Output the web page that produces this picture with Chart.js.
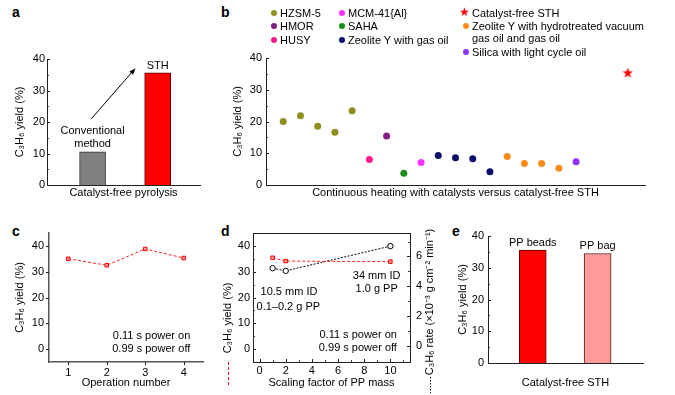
<!DOCTYPE html>
<html>
<head>
<meta charset="utf-8">
<script src="https://cdn.jsdelivr.net/npm/chart.js@4.4.0/dist/chart.umd.min.js"></script>
<style>
  body { margin: 0; background: #fff; width: 675px; height: 395px; position: relative; overflow: hidden;
         font-family: "Liberation Sans", Arial, sans-serif; color: #000; }
  .box { position: absolute; }
  .panel { position: absolute; font-weight: bold; font-size: 14px; line-height: 14px; }
  .leg { position: absolute; font-size: 11px; line-height: 12px; white-space: nowrap; }
  .dot { position: absolute; left: -9px; top: 3px; width: 6px; height: 6px; border-radius: 50%; }
  .star { position: absolute; left: -13px; top: -1px; color: #f00; font-size: 12px; }
</style>
</head>
<body>

<div class="panel" style="left:12px;top:5px">a</div>
<div class="panel" style="left:221px;top:5px">b</div>
<div class="panel" style="left:12px;top:224px">c</div>
<div class="panel" style="left:221px;top:224px">d</div>
<div class="panel" style="left:452px;top:224px">e</div>

<div class="box" style="left:0;top:0"><canvas id="chartA" width="205" height="200"></canvas></div>
<div class="box" style="left:200px;top:0"><canvas id="chartB" width="470" height="200"></canvas></div>
<div class="box" style="left:0;top:200px"><canvas id="chartC" width="215" height="195"></canvas></div>
<div class="box" style="left:220px;top:200px"><canvas id="chartD" width="235" height="195"></canvas></div>
<div class="box" style="left:450px;top:200px"><canvas id="chartE" width="225" height="195"></canvas></div>

<div id="legendB"></div>

<script>
// ---- data ----
// a: catalyst-free pyrolysis
const aMethods = ['Conventional method', 'STH'];
const aYield = [10.5, 35.6];

// b: continuous heating with catalysts vs catalyst-free STH (in plotted order)
const bHZSM5 = [20.0, 21.8, 18.5, 16.6, 23.4];
const bHUSY = [8.0];
const bHMOR = [15.4];
const bSAHA = [3.7];
const bMCM41 = [7.1];
const bZeoliteGasOil = [9.3, 8.6, 8.3, 4.2];
const bZeoliteHVGO = [9.0, 6.8, 6.8, 5.3];
const bSilicaLCO = [7.3];
const bSTH = [35.4];
const bSTHSlot = 20; // STH sits two empty slots after the last catalyst

// c: repeated operation
const cOperation = [1, 2, 3, 4];
const cYield = [35.0, 32.5, 38.8, 35.3];

// d: scale-up
const dScaling = [1, 2, 10];
const dYield = [35.4, 34.1, 33.9];
const dRate = [5.21, 5.03, 6.69];

// e: feedstock form
const eSamples = ['PP beads', 'PP bag'];
const eYield = [35.6, 34.5];

const yieldTicks = [0, 10, 20, 30, 40];
const yieldMinor = [5, 15, 25, 35];

// ---- helpers ----
const FONT = '"Liberation Sans", Arial, sans-serif';
Chart.defaults.font.family = FONT;
Chart.defaults.font.size = 11;
Chart.defaults.color = '#000';

const tickMarks = {
  id: 'tickMarks',
  afterDatasetsDraw(chart, args, opts) {
    const ctx = chart.ctx;
    ctx.save();
    ctx.strokeStyle = '#222';
    ctx.lineWidth = 1;
    ctx.beginPath();
    (opts.marks || []).forEach(m => {
      const s = chart.scales[m.axis];
      const all = m.major.map(v => [v, m.len]).concat((m.minor || []).map(v => [v, m.len * 0.6]));
      all.forEach(([v, len]) => {
        const p = Math.round(s.getPixelForValue(v)) + 0.5;
        if (s.isHorizontal()) {
          ctx.moveTo(p, s.top); ctx.lineTo(p, s.top + m.dir * len);
        } else {
          const x0 = s.position === 'left' ? s.right : s.left;
          ctx.moveTo(x0, p); ctx.lineTo(x0 + m.dir * len, p);
        }
      });
    });
    if (opts.frame) {
      const a = chart.chartArea;
      ctx.moveTo(a.left, a.top + 0.5); ctx.lineTo(a.right, a.top + 0.5);
    }
    ctx.stroke();
    ctx.restore();
  }
};

const notes = {
  id: 'notes',
  afterDatasetsDraw(chart, args, opts) {
    const ctx = chart.ctx;
    (opts.items || []).forEach(n => {
      const x = chart.scales[n.xAxis || 'x'].getPixelForValue(n.x);
      const y = chart.scales[n.yAxis || 'y'].getPixelForValue(n.y);
      ctx.save();
      ctx.font = (n.size || 11) + 'px ' + FONT;
      ctx.fillStyle = '#000';
      ctx.textAlign = n.align || 'center';
      ctx.textBaseline = 'middle';
      ctx.fillText(n.text, x, y);
      ctx.restore();
    });
  }
};

const arrow = {
  id: 'arrow',
  afterDatasetsDraw(chart, args, opts) {
    if (!opts.from) return;
    const sx = chart.scales.x, sy = chart.scales.y;
    const x1 = sx.getPixelForValue(opts.from[0]), y1 = sy.getPixelForValue(opts.from[1]);
    const x2 = sx.getPixelForValue(opts.to[0]), y2 = sy.getPixelForValue(opts.to[1]);
    const ang = Math.atan2(y2 - y1, x2 - x1);
    const ctx = chart.ctx;
    ctx.save();
    ctx.strokeStyle = '#000'; ctx.fillStyle = '#000'; ctx.lineWidth = 1;
    ctx.beginPath(); ctx.moveTo(x1, y1); ctx.lineTo(x2 - 4 * Math.cos(ang), y2 - 4 * Math.sin(ang)); ctx.stroke();
    ctx.beginPath();
    ctx.moveTo(x2, y2);
    ctx.lineTo(x2 - 7 * Math.cos(ang - 0.35), y2 - 7 * Math.sin(ang - 0.35));
    ctx.lineTo(x2 - 7 * Math.cos(ang + 0.35), y2 - 7 * Math.sin(ang + 0.35));
    ctx.closePath(); ctx.fill();
    ctx.restore();
  }
};

// rotated titles (reading bottom to top) with a small line key underneath
const sideTitles = {
  id: 'sideTitles',
  afterDraw(chart, args, opts) {
    const ctx = chart.ctx;
    (opts.items || []).forEach(t => {
      ctx.save();
      ctx.translate(t.x, t.y);
      ctx.rotate(-Math.PI / 2);
      ctx.font = '11px ' + FONT;
      ctx.fillStyle = '#000';
      ctx.textAlign = 'center';
      ctx.textBaseline = 'middle';
      ctx.fillText(t.text, 0, 0);
      ctx.restore();
      ctx.save();
      ctx.strokeStyle = t.keyColor;
      ctx.lineWidth = 1;
      ctx.setLineDash(t.keyDash);
      ctx.beginPath();
      ctx.moveTo(t.x + 0.5, t.keyFrom); ctx.lineTo(t.x + 0.5, t.keyTo);
      ctx.stroke();
      ctx.restore();
    });
  }
};

function starImage(size, color) {
  const c = document.createElement('canvas');
  c.width = c.height = size;
  const g = c.getContext('2d');
  g.fillStyle = color;
  g.beginPath();
  for (let i = 0; i < 10; i++) {
    const r = i % 2 ? size * 0.2 : size / 2;
    const a = -Math.PI / 2 + i * Math.PI / 5;
    g.lineTo(size / 2 + r * Math.cos(a), size / 2 + 0.6 + r * Math.sin(a));
  }
  g.closePath();
  g.fill();
  return c;
}

const base = { responsive: false, animation: false, devicePixelRatio: 1 };
const axisBorder = { color: '#222', width: 1 };
const noGrid = { display: false, drawTicks: false };

// ---- a ----
new Chart(document.getElementById('chartA'), {
  type: 'bar',
  data: {
    labels: aMethods,
    datasets: [{
      data: aYield.map((v, i) => ({ x: i + 1, y: v })),
      backgroundColor: ['#808080', '#ff0000'],
      borderColor: ['#333333', '#5a0000'],
      borderWidth: 1,
      borderSkipped: 'bottom',
      barThickness: 26
    }]
  },
  options: {
    ...base,
    layout: { padding: { left: 0, top: 59, right: 5, bottom: 0 } },
    plugins: {
      legend: { display: false }, tooltip: { enabled: false },
      tickMarks: { marks: [{ axis: 'y', major: yieldTicks, minor: yieldMinor, len: 3, dir: 1 }] },
      notes: { items: [
        { text: 'Conventional', x: 1, y: aYield[0] + 6.6 },
        { text: 'method', x: 1, y: aYield[0] + 2.6 },
        { text: 'STH', x: 2, y: aYield[1] + 2.2 }
      ] },
      arrow: { from: [0.98, 21], to: [1.66, 37.1] }
    },
    scales: {
      x: { type: 'linear', min: 0.3, max: 2.65, offset: false, grid: noGrid, border: axisBorder,
           ticks: { display: false },
           title: { display: true, text: 'Catalyst-free pyrolysis', padding: { top: 0, bottom: 0 } },
           afterFit(s) { s.height = 15; } },
      y: { min: 0, max: 40, grid: noGrid, border: axisBorder,
           ticks: { stepSize: 10, padding: 2 },
           title: { display: true, text: 'C₃H₆ yield (%)', padding: { top: 13, bottom: 0 } },
           afterFit(s) { s.width = 47; } }
    }
  },
  plugins: [tickMarks, notes, arrow]
});

// ---- b ----
const bGroups = [
  { name: 'HZSM-5', values: bHZSM5, color: '#8f8f1f' },
  { name: 'HUSY', values: bHUSY, color: '#ff1a8c' },
  { name: 'HMOR', values: bHMOR, color: '#7f1f7f' },
  { name: 'SAHA', values: bSAHA, color: '#1a8c1a' },
  { name: 'MCM-41{Al}', values: bMCM41, color: '#ff33ff' },
  { name: 'Zeolite Y with gas oil', values: bZeoliteGasOil, color: '#0d0d6b' },
  { name: 'Zeolite Y with hydrotreated vacuum gas oil and gas oil', values: bZeoliteHVGO, color: '#ff8c1a' },
  { name: 'Silica with light cycle oil', values: bSilicaLCO, color: '#8c33ff' }
];
let slot = 0;
const bDatasets = bGroups.map(g => ({
  label: g.name,
  data: g.values.map(v => ({ x: slot++, y: v })),
  backgroundColor: g.color,
  borderColor: g.color,
  pointRadius: 3.5,
  borderWidth: 0
}));
bDatasets.push({
  label: 'Catalyst-free STH',
  data: bSTH.map(v => ({ x: bSTHSlot, y: v })),
  pointStyle: starImage(11, '#ff0000'),
  pointRadius: 5
});

new Chart(document.getElementById('chartB'), {
  type: 'scatter',
  data: { datasets: bDatasets },
  options: {
    ...base,
    layout: { padding: { left: 0, top: 58, right: 25, bottom: 0 } },
    plugins: {
      legend: { display: false }, tooltip: { enabled: false },
      tickMarks: { marks: [{ axis: 'y', major: yieldTicks, minor: yieldMinor, len: 3, dir: 1 }] }
    },
    scales: {
      x: { type: 'linear', min: -1, max: 21, grid: noGrid, border: axisBorder,
           ticks: { display: false },
           title: { display: true, text: 'Continuous heating with catalysts versus catalyst-free STH', padding: { top: 0, bottom: 0 } },
           afterFit(s) { s.height = 15; } },
      y: { min: 0, max: 40, grid: noGrid, border: axisBorder,
           ticks: { stepSize: 10, padding: 4 },
           title: { display: true, text: 'C₃H₆ yield (%)', padding: { top: 31, bottom: 0 } },
           afterFit(s) { s.width = 66; } }
    }
  },
  plugins: [tickMarks]
});

// legend for b (three columns, as in the figure)
const legendSlots = [
  ['HZSM-5', 271, 7], ['HMOR', 271, 20], ['HUSY', 271, 34],
  ['MCM-41{Al}', 339, 7], ['SAHA', 339, 20], ['Zeolite Y with gas oil', 339, 34],
  ['Catalyst-free STH', 463, 7], ['Zeolite Y with hydrotreated vacuum<br>gas oil and gas oil', 463, 20],
  ['Silica with light cycle oil', 463, 46]
];
const legendColors = {
  'HZSM-5': '#8f8f1f', 'HMOR': '#7f1f7f', 'HUSY': '#ff1a8c', 'MCM-41{Al}': '#ff33ff', 'SAHA': '#1a8c1a',
  'Zeolite Y with gas oil': '#0d0d6b', 'Silica with light cycle oil': '#8c33ff'
};
const legendEl = document.getElementById('legendB');
legendSlots.forEach(([name, cx, top]) => {
  const d = document.createElement('div');
  d.className = 'leg';
  d.style.left = (cx + 9) + 'px';
  d.style.top = top + 'px';
  let marker;
  if (name === 'Catalyst-free STH') marker = '<span class="star">★</span>';
  else {
    const col = legendColors[name] || '#ff8c1a';
    marker = '<span class="dot" style="background:' + col + '"></span>';
  }
  d.innerHTML = marker + name;
  legendEl.appendChild(d);
});

// ---- c ----
new Chart(document.getElementById('chartC'), {
  type: 'line',
  data: {
    datasets: [{
      data: cOperation.map((x, i) => ({ x, y: cYield[i] })),
      borderColor: '#ff2020', borderWidth: 1, borderDash: [3, 2],
      pointStyle: 'rect', pointRadius: 2.5, pointBorderWidth: 1,
      pointBorderColor: '#ff0000', pointBackgroundColor: '#ff9a9a'
    }]
  },
  options: {
    ...base,
    layout: { padding: { left: 0, top: 33, right: 12, bottom: 0 } },
    plugins: {
      legend: { display: false }, tooltip: { enabled: false },
      tickMarks: { marks: [
        { axis: 'y', major: yieldTicks, len: 3, dir: -1 },
        { axis: 'x', major: cOperation, len: 3, dir: 1 }
      ] },
      notes: { items: [
        { text: '0.11 s power on', x: 4.17, y: 5.0, align: 'right' },
        { text: '0.99 s power off', x: 4.17, y: 0.1, align: 'right' }
      ] }
    },
    scales: {
      x: { type: 'linear', min: 0.5, max: 4.5, grid: noGrid, border: { color: '#555', width: 1.5 },
           afterBuildTicks(s) { s.ticks = cOperation.map(v => ({ value: v })); },
           ticks: { padding: 4 },
           title: { display: true, text: 'Operation number', padding: { top: 0, bottom: 5 } },
           afterFit(s) { s.height = 33; } },
      y: { min: -5, max: 45, grid: noGrid, border: { color: '#555', width: 1.5 },
           afterBuildTicks(s) { s.ticks = yieldTicks.map(v => ({ value: v })); },
           ticks: { padding: 5 },
           title: { display: true, text: 'C₃H₆ yield (%)', padding: { top: 13, bottom: 0 } },
           afterFit(s) { s.width = 49; } }
    }
  },
  plugins: [tickMarks, notes]
});

// ---- d ----
new Chart(document.getElementById('chartD'), {
  type: 'line',
  data: {
    datasets: [{
      data: dScaling.map((x, i) => ({ x, y: dYield[i] })),
      yAxisID: 'y',
      borderColor: '#ff2020', borderWidth: 1, borderDash: [3, 2],
      pointStyle: 'rect', pointRadius: 2.5, pointBorderWidth: 1,
      pointBorderColor: '#ff0000', pointBackgroundColor: '#ff9a9a'
    }, {
      data: dScaling.map((x, i) => ({ x, y: dRate[i] })),
      yAxisID: 'y2',
      borderColor: '#000', borderWidth: 1, borderDash: [2, 1.5],
      pointStyle: 'circle', pointRadius: 2.7, pointBorderWidth: 1,
      pointBorderColor: '#000', pointBackgroundColor: '#fff'
    }]
  },
  options: {
    ...base,
    layout: { padding: { left: 0, top: 33, right: 0, bottom: 0 } },
    plugins: {
      legend: { display: false }, tooltip: { enabled: false },
      tickMarks: { frame: true, marks: [
        { axis: 'y', major: yieldTicks, minor: [-5, 5, 15, 25, 35], len: 3, dir: 1 },
        { axis: 'y2', major: [0, 2, 4, 6], minor: [1, 3, 5, 7], len: 3, dir: -1 },
        { axis: 'x', major: [0, 2, 4, 6, 8, 10], minor: [1, 3, 5, 7, 9, 11], len: 3, dir: -1 }
      ] },
      notes: { items: [
        { text: '34 mm ID', x: 8.95, y: 28.3 },
        { text: '1.0 g PP', x: 8.95, y: 23.2 },
        { text: '10.5 mm ID', x: 2.25, y: 22.0 },
        { text: '0.1–0.2 g PP', x: 2.2, y: 16.5 },
        { text: '0.11 s power on', x: 10.5, y: 5.6, align: 'right' },
        { text: '0.99 s power off', x: 10.5, y: 0.5, align: 'right' }
      ] },
      sideTitles: { items: [
        { text: 'C₃H₆ yield (%)', x: 8, y: 118, keyColor: '#ff0000', keyDash: [3, 2], keyFrom: 162, keyTo: 185 },
        { text: 'C₃H₆ rate (×10⁻³ g cm⁻² min⁻¹)', x: 210, y: 102, keyColor: '#000', keyDash: [1.5, 1.5], keyFrom: 177, keyTo: 193 }
      ] }
    },
    scales: {
      x: { type: 'linear', min: -0.5, max: 11.5, grid: noGrid, border: axisBorder,
           afterBuildTicks(s) { s.ticks = [0, 2, 4, 6, 8, 10].map(v => ({ value: v })); },
           ticks: { padding: 2 },
           title: { display: true, text: 'Scaling factor of PP mass', padding: { top: 0, bottom: 5 } },
           afterFit(s) { s.height = 33; } },
      y: { min: -5, max: 45, grid: noGrid, border: axisBorder,
           afterBuildTicks(s) { s.ticks = yieldTicks.map(v => ({ value: v })); },
           ticks: { padding: 3 },
           afterFit(s) { s.width = 33; } },
      y2: { position: 'right', min: -1.08, max: 7.57, grid: noGrid, border: axisBorder,
            afterBuildTicks(s) { s.ticks = [0, 2, 4, 6].map(v => ({ value: v })); },
            ticks: { padding: 6 },
            afterFit(s) { s.width = 45; } }
    }
  },
  plugins: [tickMarks, notes, sideTitles]
});

// ---- e ----
new Chart(document.getElementById('chartE'), {
  type: 'bar',
  data: {
    labels: eSamples,
    datasets: [{
      data: eYield.map((v, i) => ({ x: i + 1, y: v })),
      backgroundColor: ['#ff0000', '#ff9a9a'],
      borderColor: ['#5a0000', '#5a1a1a'],
      borderWidth: 1,
      borderSkipped: 'bottom',
      barThickness: 27
    }]
  },
  options: {
    ...base,
    layout: { padding: { left: 0, top: 36, right: 32, bottom: 0 } },
    plugins: {
      legend: { display: false }, tooltip: { enabled: false },
      tickMarks: { marks: [{ axis: 'y', major: yieldTicks, minor: yieldMinor, len: 3, dir: 1 }] },
      notes: { items: [
        { text: eSamples[0], x: 1, y: eYield[0] + 2.1 },
        { text: eSamples[1], x: 2, y: eYield[1] + 2.4 }
      ] }
    },
    scales: {
      x: { type: 'linear', min: 0.31, max: 2.7, offset: false, grid: noGrid, border: axisBorder,
           ticks: { display: false },
           title: { display: true, text: 'Catalyst-free STH', padding: { top: 0, bottom: 5 } },
           afterFit(s) { s.height = 32; } },
      y: { min: 0, max: 40, grid: noGrid, border: axisBorder,
           ticks: { stepSize: 10, padding: 4 },
           title: { display: true, text: 'C₃H₆ yield (%)', padding: { top: 6, bottom: 0 } },
           afterFit(s) { s.width = 38; } }
    }
  },
  plugins: [tickMarks, notes]
});
</script>
</body>
</html>
